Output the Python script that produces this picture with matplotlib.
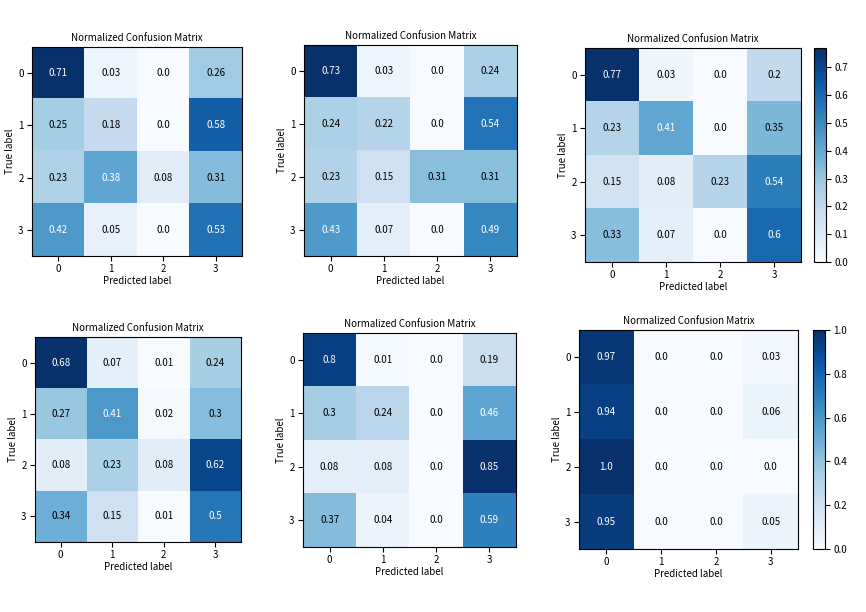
import numpy as np
import matplotlib
matplotlib.use('Agg')
import matplotlib.pyplot as plt

plt.rcParams['font.family'] = ['Noto Sans CJK SC', 'DejaVu Sans']
plt.rcParams['font.size'] = 7
plt.rcParams['xtick.major.pad'] = 2.5
plt.rcParams['ytick.major.pad'] = 2.5

classes = ['0', '1', '2', '3']

cm_1 = [[0.71, 0.03, 0.0, 0.26],
        [0.25, 0.18, 0.0, 0.58],
        [0.23, 0.38, 0.08, 0.31],
        [0.42, 0.05, 0.0, 0.53]]
cm_2 = [[0.73, 0.03, 0.0, 0.24],
        [0.24, 0.22, 0.0, 0.54],
        [0.23, 0.15, 0.31, 0.31],
        [0.43, 0.07, 0.0, 0.49]]
cm_3 = [[0.77, 0.03, 0.0, 0.2],
        [0.23, 0.41, 0.0, 0.35],
        [0.15, 0.08, 0.23, 0.54],
        [0.33, 0.07, 0.0, 0.6]]
cm_4 = [[0.68, 0.07, 0.01, 0.24],
        [0.27, 0.41, 0.02, 0.3],
        [0.08, 0.23, 0.08, 0.62],
        [0.34, 0.15, 0.01, 0.5]]
cm_5 = [[0.8, 0.01, 0.0, 0.19],
        [0.3, 0.24, 0.0, 0.46],
        [0.08, 0.08, 0.0, 0.85],
        [0.37, 0.04, 0.0, 0.59]]
cm_6 = [[0.97, 0.0, 0.0, 0.03],
        [0.94, 0.0, 0.0, 0.06],
        [1.0, 0.0, 0.0, 0.0],
        [0.95, 0.0, 0.0, 0.05]]

W, H = 866, 612
fig = plt.figure(figsize=(W / 100, H / 100), dpi=100)


def px_axes(l, t, r, b):
    # pixel box -> figure fraction
    return fig.add_axes([l / W, 1 - b / H, (r - l) / W, (b - t) / H])


# (matrix, axes box in px, colorbar box in px or None)
panels = [
    (cm_1, (32, 47, 242, 256), None),
    (cm_2, (304, 45, 517, 256), None),
    (cm_3, (585, 48, 801, 262), (814, 48, 826, 262)),
    (cm_4, (35, 337, 241, 542), None),
    (cm_5, (303, 333, 516, 547), None),
    (cm_6, (579, 330, 798, 549), (813, 330, 825, 549)),
]

for cm, box, cbox in panels:
    cm = np.array(cm)
    ax = px_axes(*box)
    im = ax.imshow(cm, interpolation='nearest', cmap=plt.cm.Blues, aspect='auto')
    ax.set_title('Normalized Confusion Matrix', fontsize=7, pad=4)
    ax.set_xticks(np.arange(len(classes)))
    ax.set_yticks(np.arange(len(classes)))
    ax.set_xticklabels(classes)
    ax.set_yticklabels(classes)
    ax.set_xlabel('Predicted label', labelpad=1)
    ax.set_ylabel('True label', labelpad=2)
    thresh = cm.max() / 2.
    for i in range(cm.shape[0]):
        for j in range(cm.shape[1]):
            ax.text(j, i, str(cm[i, j]), ha='center', va='center',
                    color='white' if cm[i, j] > thresh else 'black', fontsize=7)
    if cbox is not None:
        cax = px_axes(*cbox)
        fig.colorbar(im, cax=cax)

fig.savefig('out.png', dpi=100)
